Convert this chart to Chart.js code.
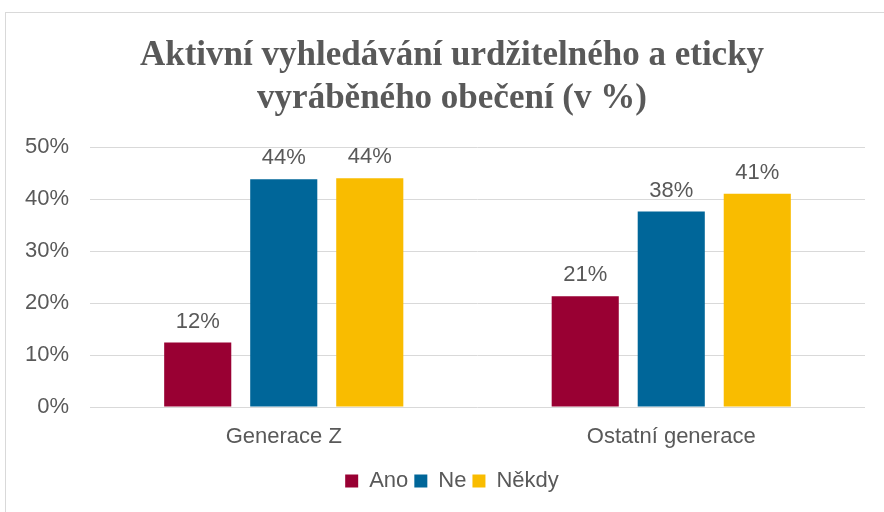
<!DOCTYPE html>
<html>
<head>
<meta charset="utf-8">
<script src="https://cdn.jsdelivr.net/npm/chart.js@4"></script>
<style>
  html, body { margin:0; padding:0; background:#ffffff; }
  #wrap { position:relative; width:884px; height:512px; overflow:hidden; }
  #frame { position:absolute; left:5px; top:12px; width:900px; height:520px; border:1px solid #d9d9d9; box-sizing:border-box; }
  #chart { position:absolute; left:0; top:0; }
</style>
</head>
<body>
<div id="wrap">
  <div id="frame"></div>
  <canvas id="chart" width="884" height="512"></canvas>
</div>
<script>
// data
const categories = ["Generace Z", "Ostatní generace"];
const seriesNames = ["Ano", "Ne", "Někdy"];
const anoValues = [12.4, 21.3];
const neValues = [43.8, 37.6];
const nekdyValues = [44.0, 41.0];
const yTicks = [0, 10, 20, 30, 40, 50];

const textColor = "#595959";
const sansFont = "'Liberation Sans', Arial, sans-serif";
const textSize = 22;

// value labels above the bars
const valueLabels = {
  id: "valueLabels",
  afterDatasetsDraw(chart) {
    const ctx = chart.ctx;
    ctx.save();
    ctx.fillStyle = textColor;
    ctx.font = textSize + "px " + sansFont;
    ctx.textAlign = "center";
    ctx.textBaseline = "alphabetic";
    chart.data.datasets.forEach((ds, i) => {
      chart.getDatasetMeta(i).data.forEach((bar, j) => {
        ctx.fillText(Math.round(ds.data[j]) + "%", bar.x, bar.y - 15);
      });
    });
    ctx.restore();
  }
};

new Chart(document.getElementById("chart"), {
  type: "bar",
  data: {
    labels: categories,
    datasets: [
      { label: seriesNames[0], data: anoValues, backgroundColor: "#990033" },
      { label: seriesNames[1], data: neValues, backgroundColor: "#006699" },
      { label: seriesNames[2], data: nekdyValues, backgroundColor: "#f9bc00" }
    ]
  },
  options: {
    responsive: false,
    animation: false,
    categoryPercentage: 0.666,
    barPercentage: 0.78,
    layout: { padding: { left: 20, right: 0, top: 0, bottom: 10 } },
    plugins: {
      title: {
        display: true,
        text: ["Aktivní vyhledávání urdžitelného a eticky", "vyráběného obečení (v %)"],
        color: textColor,
        font: { family: "'Liberation Serif', 'Times New Roman', serif", size: 35, weight: "bold", lineHeight: 1.229 },
        padding: { top: 34, bottom: 27 }
      },
      legend: {
        position: "bottom",
        labels: {
          color: textColor,
          font: { family: sansFont, size: textSize },
          boxWidth: 13,
          boxHeight: 13,
          padding: 6
        }
      },
      tooltip: { enabled: false }
    },
    scales: {
      x: {
        grid: { display: false, drawTicks: false },
        border: { display: false },
        ticks: { color: textColor, font: { family: sansFont, size: textSize }, padding: 17 },
        afterFit(scale) { scale.height = 57; }
      },
      y: {
        min: 0,
        max: 50,
        afterBuildTicks(scale) { scale.ticks = yTicks.map(v => ({ value: v })); },
        grid: { color: "#d9d9d9", drawTicks: false },
        border: { display: false },
        ticks: {
          color: textColor,
          font: { family: sansFont, size: textSize },
          padding: 21,
          callback: v => v + "%"
        },
        afterFit(scale) { scale.width = 70; }
      },
      // empty right margin so the plot ends where the reference does
      yRight: {
        position: "right",
        min: 0,
        max: 50,
        grid: { display: false, drawTicks: false },
        border: { display: false },
        ticks: { display: false },
        afterFit(scale) { scale.width = 19; }
      }
    }
  },
  plugins: [valueLabels]
});
</script>
</body>
</html>
